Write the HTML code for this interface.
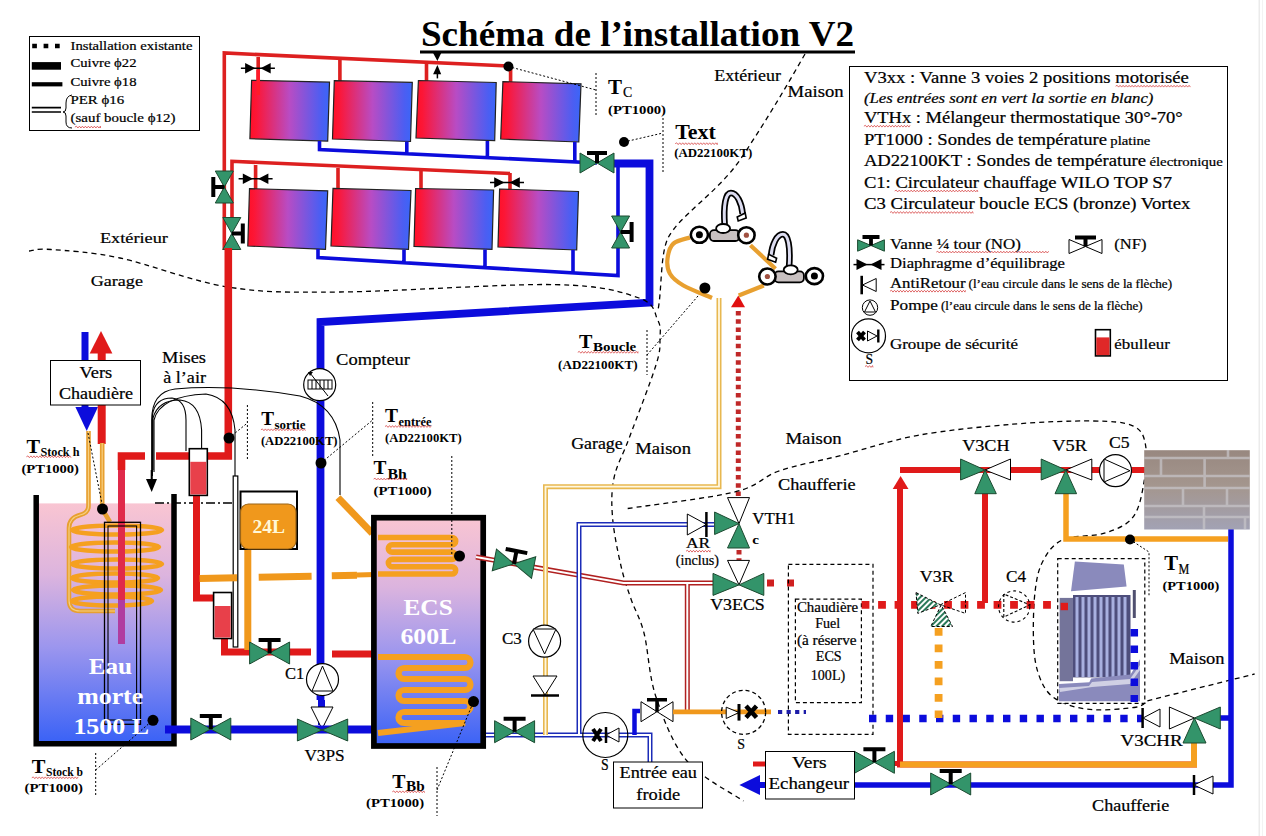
<!DOCTYPE html>
<html><head><meta charset="utf-8">
<style>
html,body{margin:0;padding:0;background:#fff;width:1266px;height:836px;overflow:hidden}
svg{display:block}
text{font-family:"Liberation Serif",serif;fill:#000}
.b{font-weight:bold}
</style></head><body>
<svg width="1266" height="836" viewBox="0 0 1266 836">
<defs>
<linearGradient id="pan" x1="0" x2="1" y1="0" y2="0">
<stop offset="0" stop-color="#ff1028"/><stop offset="0.08" stop-color="#fc1636"/><stop offset="0.5" stop-color="#b84cc4"/><stop offset="0.9" stop-color="#4c5ef2"/><stop offset="1" stop-color="#3a66f8"/>
</linearGradient>
<linearGradient id="tank" x1="0" x2="0" y1="0" y2="1">
<stop offset="0" stop-color="#f9c5d2"/><stop offset="0.3" stop-color="#dcb4de"/><stop offset="0.6" stop-color="#9c96ee"/><stop offset="1" stop-color="#3a62f6"/>
</linearGradient>
<linearGradient id="rodg" x1="0" x2="0" y1="0" y2="1">
<stop offset="0" stop-color="#e02050"/><stop offset="1" stop-color="#b03ca0"/>
</linearGradient>
<!-- 2-way valve green, centered, horizontal -->
<g id="vg">
<polygon points="-20,-11 0,0 -20,11" fill="#33946a" stroke="#1c4a30" stroke-width="1"/>
<polygon points="20,-11 0,0 20,11" fill="#33946a" stroke="#1c4a30" stroke-width="1"/>
<path fill="none" d="M0,0 V-13 M-11,-13 H11" stroke="#000" stroke-width="4"/>
</g>
<g id="vw">
<polygon points="-16,-10 0,0 -16,10" fill="#fff" stroke="#000" stroke-width="1"/>
<polygon points="16,-10 0,0 16,10" fill="#fff" stroke="#000" stroke-width="1"/>
<path fill="none" d="M0,0 V-12 M-10,-12 H10" stroke="#000" stroke-width="3.5"/>
</g>
<g id="dia">
<polygon points="-12.8,-5.2 -2.6,0 -12.8,5.2" fill="#000"/><polygon points="12.8,-5.2 2.6,0 12.8,5.2" fill="#000"/>
<path fill="none" d="M-17,0 H17" stroke="#000" stroke-width="1.5"/>
</g>
</defs>

<!-- right gray line -->
<rect x="1258.5" y="0" width="1.5" height="836" fill="#ebebeb"/><rect x="1262" y="0" width="1" height="836" fill="#f3f3f3"/>

<!-- TITLE -->
<rect x="420" y="50.5" width="435" height="3" fill="#000"/>

<!-- LEGEND top-left -->
<rect x="29.5" y="36.5" width="170" height="94" fill="none" stroke="#000" stroke-width="1"/>
<path fill="none" d="M32.2,46 H60" stroke="#000" stroke-width="4.7" stroke-dasharray="4.7,6.7"/>
<rect x="31.8" y="62.1" width="29.2" height="7.6" fill="#000"/>
<rect x="31.8" y="82.2" width="30.6" height="4.2" fill="#000"/>
<path fill="none" d="M31.8,107.6 H61 M31.8,112 H61" stroke="#000" stroke-width="1.6"/>
<path d="M72,95 Q66,96 66,103 V108 Q66,112 63,112 Q66,112 66,116 V122 Q66,128 72,128" fill="none" stroke="#000" stroke-width="1"/>

<!-- SOLAR PANELS upper -->
<g id="solar">
<!-- red collectors -->
<path d="M224.3,250 V53 L508.4,66" fill="none" stroke="#dd2020" stroke-width="3.6"/>
<path d="M258.2,57 V95 M339.9,60 V81 M426.5,63 V81 M510.6,66 V82" fill="none" stroke="#dd2020" stroke-width="3.6"/>
<polygon points="251.6,80.3 329.5,82.2 327.7,141.1 249.9,138.7" fill="url(#pan)" stroke="#222" stroke-width="1.2"/>
<polygon points="334.3,80.7 412.3,82.4 410.5,141.5 332.5,139" fill="url(#pan)" stroke="#222" stroke-width="1.2"/>
<polygon points="418.4,80.5 496.2,82.5 494.7,140.7 416,138" fill="url(#pan)" stroke="#222" stroke-width="1.2"/>
<polygon points="502.9,81.6 581,83.8 578.8,142 500.7,139" fill="url(#pan)" stroke="#222" stroke-width="1.2"/>
<path fill="none" d="M258.2,70 V95" stroke="#ff1a2a" stroke-width="3.6"/>
<circle cx="508.4" cy="66.5" r="5" fill="#000"/>
<!-- blue collectors -->
<path d="M319.5,141 V149.5 L597,163 M406.8,141.5 V154 M487.4,141 V158 M574.8,142 V162" fill="none" stroke="#0c0cdc" stroke-width="3.6"/>
<use href="#dia" x="257.9" y="68.2"/>
<polygon points="433.1,53.1 441.2,53.1 437.4,61.1" fill="#000"/><polygon points="433.1,74.3 441.2,74.3 437.4,64.9" fill="#000"/><path fill="none" d="M437.4,74 V78.4" stroke="#000" stroke-width="1.5"/>

<!-- lower group -->
<path d="M232,217 V161.3 L510,173.5" fill="none" stroke="#dd2020" stroke-width="3.6"/>
<path d="M255.6,165 V189 M338,168 V189 M421,170 V189 M510,173 V190" fill="none" stroke="#dd2020" stroke-width="3.6"/>
<polygon points="249.5,188.6 327.7,190.8 325.5,249.4 247.8,246" fill="url(#pan)" stroke="#222" stroke-width="1.2"/>
<polygon points="333,188.4 411,190.5 408.5,249.4 331,246" fill="url(#pan)" stroke="#222" stroke-width="1.2"/>
<polygon points="415.6,188.5 493.6,190 492,249.4 414,246.4" fill="url(#pan)" stroke="#222" stroke-width="1.2"/>
<polygon points="499.6,189 578.5,191.5 576.7,250 498,247" fill="url(#pan)" stroke="#222" stroke-width="1.2"/>
<path d="M318,249 V257.5 L618,275.6 V166 M404,249.5 V263 M485,249.5 V268 M573,250 V273" fill="none" stroke="#0c0cdc" stroke-width="3.6"/>
<use href="#dia" x="255.6" y="178.7"/>
<use href="#dia" x="507" y="182.5"/>
</g>

<!-- valves on left verticals -->
<g transform="translate(224.3,187) rotate(90)">
<polygon points="-16,-9 0,0 -16,9" fill="#33946a" stroke="#1c4a30" stroke-width="1"/>
<polygon points="16,-9 0,0 16,9" fill="#33946a" stroke="#1c4a30" stroke-width="1"/>
<path fill="none" d="M0,0 V11 M-10,11 H10" stroke="#000" stroke-width="4"/>
</g>
<g transform="translate(231.8,233.5) rotate(90)">
<polygon points="-16,-9 0,0 -16,9" fill="#33946a" stroke="#1c4a30" stroke-width="1"/>
<polygon points="16,-9 0,0 16,9" fill="#33946a" stroke="#1c4a30" stroke-width="1"/>
<path fill="none" d="M0,0 V-11 M-10,-11 H10" stroke="#000" stroke-width="4"/>
</g>
<g transform="translate(620.6,232) rotate(90)">
<polygon points="-16,-9 0,0 -16,9" fill="#33946a" stroke="#1c4a30" stroke-width="1"/>
<polygon points="16,-9 0,0 16,9" fill="#33946a" stroke="#1c4a30" stroke-width="1"/>
<path fill="none" d="M0,0 V-11 M-10,-11 H10" stroke="#000" stroke-width="4"/>
</g>
<!-- valve top right of panel, blue -->
<path d="M613,163.5 H649.5 V302.6 L320.5,322 V700" fill="none" stroke="#0c0cdc" stroke-width="7.8"/>
<g transform="translate(597,163)">
<polygon points="-17,-10 0,0 -17,10" fill="#33946a" stroke="#1c4a30" stroke-width="1"/>
<polygon points="17,-10 0,0 17,10" fill="#33946a" stroke="#1c4a30" stroke-width="1"/>
<path fill="none" d="M0,0 V-10 M-10,-10 H10" stroke="#000" stroke-width="4"/>
</g>


<!-- ===== LEFT SIDE ===== -->
<path d="M29,251 C32.7,250.8 35.8,248.3 51.0,249.5 C66.2,250.7 90.5,251.8 120.0,258.0 C149.5,264.2 191.3,281.3 228.0,287.0 C264.7,292.7 285.5,292.4 340.0,292.0 C394.5,291.6 505.2,283.6 555.0,284.6 C604.8,285.6 621.9,292.1 639.0,298.0 C656.1,303.9 654.2,313.3 657.7,320.0 C661.2,326.7 660.3,330.5 660.0,338.0 C659.7,345.5 661.2,348.2 656.0,365.0 C650.8,381.8 636.0,419.7 629.0,438.5 C622.0,457.3 616.7,464.8 614.0,478.0 C611.3,491.2 611.4,503.3 612.6,518.0 C613.8,532.7 617.9,552.5 621.0,566.0 C624.1,579.5 627.2,587.8 631.0,599.0 C634.8,610.2 639.8,616.7 644.0,633.0 C648.2,649.3 648.8,675.7 656.0,697.0 C663.2,718.3 672.4,743.7 687.0,761.0 C701.6,778.3 734.1,794.3 743.5,801.0" fill="none" stroke="#000" stroke-width="1.3" stroke-dasharray="5,4"/>

<!-- vers chaudiere pipes -->
<path fill="none" d="M85,332 V410" stroke="#0c0cdc" stroke-width="7"/>
<polygon points="75.4,407 98,407 86.7,431" fill="#0c0cdc"/>
<path fill="none" d="M101.7,352 V444" stroke="#e01a1a" stroke-width="8"/>
<polygon points="89.7,353.5 112.4,353.5 101,331" fill="#e01a1a"/>
<rect x="50.5" y="360.5" width="90" height="44.5" fill="#fff" stroke="#000" stroke-width="1"/>

<!-- Eau morte tank -->
<rect x="38" y="503.4" width="134" height="239" fill="url(#tank)"/>
<path d="M36.2,495 V743.8 H174 V494" fill="none" stroke="#000" stroke-width="5.5"/>
<path fill="none" d="M155,503 H237" stroke="#000" stroke-width="1.5" stroke-dasharray="9,3,2,3"/>
<!-- orange pipes into tank -->
<path d="M88.5,431 V506 Q88.5,513 80,515 Q69,518 69,528 V600 Q69,611 80,611 H115" fill="none" stroke="#e8a030" stroke-width="4.6"/><path d="M88.5,431 V506 Q88.5,513 80,515 Q69,518 69,528 V600 Q69,611 80,611 H115" fill="none" stroke="#f6cf80" stroke-width="1.2"/>
<path d="M102.2,443 V509 L110,522" fill="none" stroke="#e8a030" stroke-width="4.6"/><path d="M102.2,443 V509" fill="none" stroke="#f6cf80" stroke-width="1.2"/>
<g fill="none" stroke="#f5a020" stroke-width="4.6">
<ellipse cx="117" cy="530" rx="45" ry="4.5"/>
<ellipse cx="115" cy="547" rx="44" ry="4.5"/>
<ellipse cx="117" cy="564" rx="45" ry="4.5"/>
<ellipse cx="115" cy="578" rx="43" ry="4.5"/>
<ellipse cx="117" cy="590" rx="44" ry="4.5"/>
<ellipse cx="112" cy="601" rx="40" ry="4.5"/>
</g>
<path fill="none" d="M88,433 L103,509" stroke="#000" stroke-width="1" stroke-dasharray="2,2"/>
<circle cx="102.5" cy="509" r="5.5" fill="#000"/>
<path fill="none" d="M121.5,456 V600" stroke="#e02a4a" stroke-width="7"/>
<path fill="none" d="M121.5,600 V644" stroke="#b03ca0" stroke-width="7"/>
<rect x="104.5" y="522.3" width="36" height="202" fill="none" stroke="#000" stroke-width="1.3"/>
<rect x="108" y="526" width="28.6" height="194" fill="none" stroke="#000" stroke-width="1.1"/>
<circle cx="153" cy="720.3" r="5.5" fill="#000"/>
<path fill="none" d="M95.7,753 V797 M95.7,770 L153,720" stroke="#000" stroke-width="1" stroke-dasharray="2,2"/>

<!-- red main into tank -->
<path d="M228.3,248 V456 H156 M145,456 H121.5 V470" fill="none" stroke="#e01a1a" stroke-width="7.6"/>
<circle cx="229" cy="438" r="5.5" fill="#000"/>

<!-- air vent curves -->
<g fill="none" stroke="#000" stroke-width="1.1">
<path fill="none" d="M151.7,480 V420 Q151.7,392 175,389 Q230,384 300,396 Q335,405 340,440 V495"/>
<path fill="none" d="M152.4,476 V415 Q155,398 172,398 Q186,400 186,420 V451"/>
<path fill="none" d="M153,470 V418 Q158,400 180,400 Q200,402 201.6,430 V453"/>
<path fill="none" d="M154,472 V420 Q160,396 206,394 Q232,398 235,430 V476"/>
</g>
<polygon points="146,479 157,479 151.7,492" fill="#000"/>
<path fill="none" d="M151.7,470 V482" stroke="#000" stroke-width="2"/>

<!-- ebulleurs and red small pipes -->
<path d="M196.5,495 V598 H214 M224.5,638 V652 H311 M332,654 H372" fill="none" stroke="#e01a1a" stroke-width="7"/>
<rect x="189.3" y="448.7" width="18" height="46.7" fill="#fff" stroke="#000" stroke-width="1.6"/>
<rect x="190.3" y="461.8" width="16" height="32.6" fill="#e8404a"/>
<rect x="213.6" y="592.5" width="18" height="46" fill="#fff" stroke="#000" stroke-width="1.6"/>
<rect x="214.6" y="606" width="16" height="31.5" fill="#e8404a"/>
<rect x="233.2" y="476" width="4.6" height="171" fill="#fff" stroke="#000" stroke-width="1.2"/>
<!-- 24L -->
<path fill="none" d="M247.8,545 V650" stroke="#f0981c" stroke-width="7"/>
<rect x="240.5" y="491.5" width="56.5" height="57.5" fill="#fff" stroke="#000" stroke-width="2"/>
<rect x="240.5" y="504" width="55.5" height="45" rx="8" fill="#f0981c" stroke="#9a6418" stroke-width="1.2"/>
<!-- orange horizontal dashed -->
<path fill="none" d="M199.6,578.5 L237,577.7 M258.7,577.3 L311.6,576.3 M331.8,575.8 L357,575.2" stroke="#f0981c" stroke-width="7"/>
<path fill="none" d="M357,575 L375,574.4" stroke="#f0981c" stroke-width="5"/>
<use href="#vg" x="269.6" y="653"/>

<!-- blue vertical main w/ compteur, C1, V3PS -->
<circle cx="319.7" cy="384.7" r="16" fill="#fff" stroke="#000" stroke-width="1.2"/>
<rect x="308" y="380" width="24" height="9" fill="#fff" stroke="#000" stroke-width="1"/>
<path fill="none" d="M312,380 V389 M316,380 V389 M320,380 V389 M324,380 V389 M328,380 V389 M310,373 L328,396" stroke="#000" stroke-width="1"/>
<polygon points="308,372 313,372 310,376" fill="#000"/>
<circle cx="321" cy="463" r="5.5" fill="#000"/>
<path fill="none" d="M321.5,700 V725" stroke="#0c0cdc" stroke-width="7"/>
<circle cx="322.5" cy="679.6" r="16" fill="#fff" stroke="#000" stroke-width="1.2"/>
<polygon points="322.5,666 312,691 333,691" fill="#fff" stroke="#000" stroke-width="1"/>
<polygon points="311,707 333,707 322,729" fill="#fff" stroke="#000" stroke-width="1"/>
<path fill="none" d="M165,729.5 H372" stroke="#0c0cdc" stroke-width="8"/>
<use href="#vg" x="210.8" y="729"/>
<polygon points="297.4,719 322,730 297.4,741" fill="#33946a" stroke="#1c4a30" stroke-width="1"/>
<polygon points="347.7,719 322,730 347.7,741" fill="#33946a" stroke="#1c4a30" stroke-width="1"/>
<!-- orange diagonal -->
<path fill="none" d="M338,497.6 L372.3,533.4" stroke="#f0981c" stroke-width="7"/>
<!-- Tsortie / Tentree -->
<path fill="none" d="M247.4,405 V460 M229,438 L247.4,423" stroke="#000" stroke-width="1" stroke-dasharray="2,2"/>


<!-- ===== CENTER ===== -->
<!-- ECS tank -->
<rect x="373.9" y="517.7" width="109.3" height="228.3" fill="url(#tank)" stroke="#000" stroke-width="5.7"/>
<g fill="none" stroke="#f5a020" stroke-width="5.5">
<path d="M378,537.5 H452 A3.65,3.65 0 0 1 452,544.8 H392 A3.65,3.65 0 0 0 392,552.1 H452 A3.65,3.65 0 0 1 452,559.4 H392 A3.65,3.65 0 0 0 392,566.7 H452 A3.65,3.65 0 0 1 452,574 H378" stroke-width="5.6"/>
<path d="M378,657 H465 A5.50,5.50 0 0 1 465,668 H404 A5.50,5.50 0 0 0 404,679 H465 A5.50,5.50 0 0 1 465,690 H404 A5.50,5.50 0 0 0 404,701 H465 A5.50,5.50 0 0 1 465,712 H404 A5.50,5.50 0 0 0 404,723 H465 L378,733" stroke-width="6.2"/>
</g>
<circle cx="459.5" cy="556" r="5.5" fill="#000"/>
<circle cx="473.5" cy="701.6" r="5.5" fill="#000"/>
<path fill="none" d="M451.8,456 V556 M437,767 V816 M437,790 L473.5,701.6" stroke="#000" stroke-width="1" stroke-dasharray="2,2"/>
<path fill="none" d="M372.7,402 V456 M321,463 L372.7,420" stroke="#000" stroke-width="1" stroke-dasharray="2,2"/>

<!-- red double line from ECS top -->
<path d="M476,557 L623.5,583 H714 M687.3,583 V711" fill="none" stroke="#b02020" stroke-width="5"/>
<path d="M476,557 L623.5,583 H714 M687.3,583 V711" fill="none" stroke="#fff" stroke-width="2"/>
<g transform="translate(514,563.8) rotate(11)"><use href="#vg"/></g>
<!-- blue double line -->
<path d="M486,735 H650 V762 M579,735 V524.4 H714" fill="none" stroke="#1c2cb8" stroke-width="5"/>
<path d="M486,735 H650 V762 M579,735 V524.4 H714" fill="none" stroke="#fff" stroke-width="2"/>
<use href="#vg" x="514.6" y="731.7"/>
<!-- yellow double -->
<path d="M545.5,735 V486.7 H719 V298" fill="none" stroke="#e8b850" stroke-width="5"/>
<path d="M545.5,735 V486.7 H719 V298" fill="none" stroke="#fff8e0" stroke-width="1.8"/>
<circle cx="544.6" cy="641.2" r="16" fill="#fff" stroke="#000" stroke-width="1.2"/>
<polygon points="533,629 556,629 544.6,654" fill="#fff" stroke="#000" stroke-width="1"/>
<polygon points="533,676 557,676 545,695" fill="#fff" stroke="#000" stroke-width="1"/>
<path fill="none" d="M531,695.5 H559" stroke="#000" stroke-width="2.5"/>
<!-- security group S1 -->
<circle cx="605.3" cy="735" r="22.5" fill="none" stroke="#000" stroke-width="1.2"/>
<path fill="none" d="M593,729 L601,741 M601,729 L593,741" stroke="#000" stroke-width="4"/>
<path fill="none" d="M606,727 V743" stroke="#000" stroke-width="2.5"/>
<polygon points="606,735 619,728 619,742" fill="#fff" stroke="#000" stroke-width="1"/>
<path d="M634.5,735 V711 H640" fill="none" stroke="#0c0cdc" stroke-width="4.5"/>
<g transform="translate(657,711.7)"><use href="#vw"/></g>
<path fill="none" d="M673,711.8 H771" stroke="#f0981c" stroke-width="4.8"/>
<rect x="613.5" y="762" width="89" height="46" fill="#fff" stroke="#000" stroke-width="1"/>
<path fill="none" d="M647,330 V375 M647,355 L704.9,288" stroke="#000" stroke-width="1" stroke-dasharray="2,2"/>

<!-- Tc / Text labels -->
<path fill="none" d="M508.4,66.5 L596,90 M596,73 V116 M624,142 L663,133 M663,118 V172" stroke="#000" stroke-width="1" stroke-dasharray="2,2"/>
<circle cx="624" cy="142" r="5" fill="#000"/>
<path d="M805,54 C790,80 770,115 740,160 C715,195 680,215 668,238 C660,255 662,290 658,310" fill="none" stroke="#000" stroke-width="1.3" stroke-dasharray="5,4"/>

<!-- taps -->
<g fill="none" stroke="#e8a030" stroke-width="4.2">
<path d="M690,237.5 C687.2,238.5 677.1,240.1 673.4,243.6 C669.6,247.1 668.1,253.7 667.5,258.7 C666.9,263.7 667.4,269.3 670.0,273.8 C672.6,278.3 676.4,281.5 683.4,285.5 C690.4,289.5 707.2,295.9 712.0,298.0"/>
<path d="M750.4,245.3 L775.5,268.7"/>
<path d="M763.8,285.5 L738.7,295.5"/>
</g>
<circle cx="704.9" cy="288" r="5.5" fill="#000"/>
<g id="tap1" transform="translate(723.2,235)">
<path d="M1.5,-9.6 C0,-30 2.5,-42 7.7,-42 C13.7,-42 18.5,-32 19.5,-21" fill="none" stroke="#000" stroke-width="6.5"/>
<path d="M1.5,-9.6 C0,-30 2.5,-42 7.7,-42 C13.7,-42 18.5,-32 19.5,-21" fill="none" stroke="#dcdcf0" stroke-width="3"/>
<polygon points="14,-18 22,-22 23,-17 15,-14" fill="#fff" stroke="#000" stroke-width="1.6"/>
<rect x="-13.3" y="-4.9" width="29.5" height="10.9" rx="4" fill="#c8c0c0" stroke="#000" stroke-width="1.8"/>
<ellipse cx="-0.1" cy="-6.5" rx="7" ry="4.5" fill="#fff" stroke="#000" stroke-width="1.8"/>
<ellipse cx="-23.8" cy="-0.2" rx="8.6" ry="8" fill="#fff" stroke="#000" stroke-width="2.6"/>
<circle cx="-23.8" cy="-0.2" r="3.5" fill="#000"/>
<ellipse cx="23.2" cy="0.2" rx="8.2" ry="8" fill="#fff" stroke="#000" stroke-width="2.6"/>
<circle cx="23.2" cy="0.2" r="2.6" fill="#a05040"/>
</g>
<g transform="translate(790.6,276.3) scale(-1,1)">
<path d="M1.5,-9.6 C0,-30 2.5,-42 7.7,-42 C13.7,-42 18.5,-32 19.5,-21" fill="none" stroke="#000" stroke-width="6.5"/>
<path d="M1.5,-9.6 C0,-30 2.5,-42 7.7,-42 C13.7,-42 18.5,-32 19.5,-21" fill="none" stroke="#dcdcf0" stroke-width="3"/>
<polygon points="14,-18 22,-22 23,-17 15,-14" fill="#fff" stroke="#000" stroke-width="1.6"/>
<rect x="-13.3" y="-4.9" width="29.5" height="10.9" rx="4" fill="#c8c0c0" stroke="#000" stroke-width="1.8"/>
<ellipse cx="-0.1" cy="-6.5" rx="7" ry="4.5" fill="#fff" stroke="#000" stroke-width="1.8"/>
<ellipse cx="-23.8" cy="-0.2" rx="8.6" ry="8" fill="#fff" stroke="#000" stroke-width="2.6"/>
<circle cx="-23.8" cy="-0.2" r="3.5" fill="#000"/>
<ellipse cx="23.2" cy="0.2" rx="8.2" ry="8" fill="#fff" stroke="#000" stroke-width="2.6"/>
<circle cx="23.2" cy="0.2" r="2.6" fill="#a05040"/>
</g>
<polygon points="731,307.3 745,307.3 738.3,295.5" fill="#e01010"/>
<path fill="none" d="M738.3,311 V497" stroke="#c02828" stroke-width="5" stroke-dasharray="4.5,3.7"/>

<!-- ===== RIGHT ===== -->
<!-- legend box -->
<rect x="849.5" y="66.5" width="378" height="314" fill="#fff" stroke="#000" stroke-width="1"/>
<g transform="translate(871,245.5)">
<polygon points="-13.4,-5.7 0,0 -13.4,5.7" fill="#33946a" stroke="#1c4a30" stroke-width="1"/>
<polygon points="13.4,-5.7 0,0 13.4,5.7" fill="#33946a" stroke="#1c4a30" stroke-width="1"/>
<path fill="none" d="M0,0 V-9.5 M-8.5,-8.5 H8.5" stroke="#000" stroke-width="3.8"/>
</g>
<g transform="translate(1085.5,246.5)">
<polygon points="-16.5,-7 0,0 -16.5,7" fill="#fff" stroke="#000" stroke-width="1"/>
<polygon points="16.5,-7 0,0 16.5,7" fill="#fff" stroke="#000" stroke-width="1"/>
<path fill="none" d="M0,0 V-10.5 M-10.5,-9 H10.5" stroke="#000" stroke-width="4"/>
</g>
<g transform="translate(869,264.6)">
<polygon points="-12.5,-5.5 -1.5,0 -12.5,5.5" fill="#000"/><polygon points="12.5,-5.5 1.5,0 12.5,5.5" fill="#000"/>
<path fill="none" d="M-15.5,0 H15.5" stroke="#000" stroke-width="1.5"/>
</g>
<path fill="none" d="M861.7,275.8 V294.3" stroke="#000" stroke-width="2.6"/>
<polygon points="862.5,285 876.2,278.5 876.2,291.5" fill="#fff" stroke="#000" stroke-width="1"/>
<circle cx="870" cy="307.6" r="7.7" fill="#fff" stroke="#000" stroke-width="1"/>
<polygon points="870,301 864.5,312 875.5,312" fill="#fff" stroke="#000" stroke-width="1"/>
<circle cx="868.5" cy="335.9" r="17" fill="#fff" stroke="#000" stroke-width="1.2"/>
<path fill="none" d="M857.5,332 L864.5,340 M864.5,332 L857.5,340" stroke="#000" stroke-width="3.8"/>
<polygon points="867.5,331 877,336 867.5,341" fill="#fff" stroke="#000" stroke-width="1"/>
<path fill="none" d="M878.3,329.5 V342.5" stroke="#000" stroke-width="2.4"/>
<rect x="1095.5" y="329.7" width="14.8" height="26.2" fill="#fff" stroke="#000" stroke-width="1.6"/>
<rect x="1096.3" y="337.4" width="13.2" height="17.7" fill="#e02828"/>

<!-- VTH1 & V3ECS -->
<polygon points="727.5,497.6 749.5,497.6 739,523.6" fill="#fff" stroke="#000" stroke-width="1"/>
<polygon points="714.6,512 739,523.6 714.6,534.5" fill="#33946a" stroke="#1c4a30" stroke-width="1"/>
<polygon points="739,523.6 727.5,548 749.5,548" fill="#33946a" stroke="#1c4a30" stroke-width="1"/>
<polygon points="687.3,514 706.4,524.4 687.3,535" fill="#fff" stroke="#000" stroke-width="1"/>
<path fill="none" d="M706.4,512 V537" stroke="#000" stroke-width="2.5"/>
<path fill="none" d="M739,550 V560" stroke="#c02828" stroke-width="5" stroke-dasharray="4.5,3.7"/>
<polygon points="727.5,560.4 749.5,560.4 739,584.9" fill="#fff" stroke="#000" stroke-width="1"/>
<polygon points="713,573.4 739,584.9 713,595.4" fill="#33946a" stroke="#1c4a30" stroke-width="1"/>
<polygon points="763.8,573.4 739,584.9 763.8,595.4" fill="#33946a" stroke="#1c4a30" stroke-width="1"/>
<path fill="none" d="M767,583 H800" stroke="#d02020" stroke-width="7" stroke-dasharray="7,13"/>
<path d="M627.7,508.5 C645.6,505.7 709.7,498.2 735.0,491.9 C760.3,485.6 761.6,477.0 779.3,470.9 C797.0,464.8 818.1,461.3 841.2,455.4 C864.3,449.5 889.4,440.5 918.0,435.3 C946.6,430.1 983.8,426.6 1012.8,424.2 C1041.8,421.8 1071.8,420.7 1091.8,421.0 C1111.8,421.3 1123.8,421.8 1132.8,425.8 C1141.8,429.8 1143.7,435.3 1145.5,444.8 C1147.3,454.3 1146.0,470.6 1143.9,482.7 C1141.8,494.8 1139.4,509.0 1132.8,517.4 C1126.2,525.8 1116.0,529.5 1104.4,533.2 C1092.8,536.9 1073.5,535.0 1063.3,539.5 C1053.1,544.0 1048.2,551.5 1043.5,560.0 C1038.8,568.5 1036.9,576.9 1035.2,590.3 C1033.5,603.7 1033.0,626.5 1033.5,640.5 C1034.0,654.5 1035.2,664.5 1038.5,674.0 C1041.8,683.5 1045.5,691.6 1053.6,697.5 C1061.7,703.4 1073.7,707.5 1087.1,709.2 C1100.5,710.9 1124.0,708.9 1134.0,707.5 C1144.0,706.1 1145.2,701.9 1147.4,700.8" fill="none" stroke="#000" stroke-width="1.3" stroke-dasharray="5,4"/>
<path d="M1147.4,700.8 L1254.6,674" fill="none" stroke="#000" stroke-width="1.3" stroke-dasharray="5,4"/>

<!-- Chaudiere fuel -->
<rect x="788.4" y="564.4" width="84.6" height="170" fill="none" stroke="#000" stroke-width="1.2" stroke-dasharray="4,3"/>
<rect x="795.4" y="599.2" width="66" height="103.5" fill="none" stroke="#000" stroke-width="1.2" stroke-dasharray="4,3"/>
<!-- S2 group -->
<circle cx="743.6" cy="712.3" r="22" fill="none" stroke="#000" stroke-width="1.3" stroke-dasharray="4,3"/>
<polygon points="726.2,707.2 739,712.5 726.2,718.5" fill="#fff" stroke="#000" stroke-width="1"/>
<path fill="none" d="M739,704 V720.6" stroke="#000" stroke-width="3"/>
<path fill="none" d="M746,706 L756.5,717.5 M756.5,706 L746,717.5" stroke="#000" stroke-width="4.5"/>
<path fill="none" d="M778,712 H806" stroke="#1c1ca8" stroke-width="4.2" stroke-dasharray="4.2,4.36"/>

<!-- right red/orange/blue piping -->
<path fill="none" d="M861.6,604.8 H1068" stroke="#e01a1a" stroke-width="7.8" stroke-dasharray="7.8,8.7"/>
<path d="M900,489 V764.5 H1194 V743" fill="none" stroke="#e01a1a" stroke-width="6"/>
<path d="M900,764.5 H1194 V743" fill="none" stroke="#f5a020" stroke-width="6"/>
<polygon points="892.7,489 908.5,489 900.6,476" fill="#e01a1a"/>
<path d="M900,470 H1145 M985,493 V603" fill="none" stroke="#e01a1a" stroke-width="6"/>
<path d="M1066,493 V539 H1228" fill="none" stroke="#f5a020" stroke-width="5.5"/>
<circle cx="1130" cy="539.5" r="5" fill="#000"/>
<path d="M1231,529 V785 H855 M1220,718 H1231" fill="none" stroke="#0c0cdc" stroke-width="5.5"/>
<polygon points="739.4,785 760,775 760,795" fill="#0c0cdc"/>
<path fill="none" d="M758,785 H770" stroke="#0c0cdc" stroke-width="6"/>
<path fill="none" d="M753,764 H768" stroke="#e01a1a" stroke-width="5"/>
<path fill="none" d="M869,718.5 H1142" stroke="#0c0cdc" stroke-width="7.4" stroke-dasharray="7.4,9.35"/>
<path fill="none" d="M900,705 V735" stroke="#e01a1a" stroke-width="6"/>
<path fill="none" d="M894,763.5 H900" stroke="#e01a1a" stroke-width="5"/>

<path fill="none" d="M938.6,628 V718" stroke="#f5a020" stroke-width="7.8" stroke-dasharray="7.8,8.7"/>
<!-- V3CH, V5R -->
<polygon points="960.6,459 985,470 960.6,480" fill="#33946a" stroke="#1c4a30" stroke-width="1"/>
<polygon points="1010.5,459 985,470 1010.5,480" fill="#fff" stroke="#000" stroke-width="1"/>
<polygon points="985,470 974.8,493.7 996.3,493.7" fill="#33946a" stroke="#1c4a30" stroke-width="1"/>
<polygon points="1041.2,459 1065.8,470 1041.2,480" fill="#33946a" stroke="#1c4a30" stroke-width="1"/>
<polygon points="1091.8,459 1065.8,470 1091.8,480" fill="#fff" stroke="#000" stroke-width="1"/>
<polygon points="1065.8,470 1055,493.7 1076.6,493.7" fill="#33946a" stroke="#1c4a30" stroke-width="1"/>
<circle cx="1115.5" cy="470.7" r="16" fill="#fff" stroke="#000" stroke-width="1.2"/>
<polygon points="1104,459 1104,482 1130,470.7" fill="#fff" stroke="#000" stroke-width="1"/>
<!-- brick -->
<linearGradient id="brk" x1="0" x2="0" y1="0" y2="1"><stop offset="0" stop-color="#988880"/><stop offset="0.45" stop-color="#a4968e"/><stop offset="1" stop-color="#a2a2b4"/></linearGradient>
<rect x="1144.2" y="450.2" width="105.6" height="79.3" fill="url(#brk)"/>
<g stroke="#c8c6ca" stroke-width="2.6" fill="none" opacity="0.7">
<path d="M1144.2,458 H1249.8 M1144.2,476 H1249.8 M1144.2,488 H1249.8 M1144.2,506 H1249.8 M1144.2,517 H1249.8"/>
<path d="M1228,450 V458 M1161,458 V476 M1204.6,458 V476 M1204.6,476 V488 M1183,488 V506 M1227,488 V506 M1204,506 V517 M1204,517 V529 M1245,517 V529"/>
</g>
<!-- V3R, C4 -->
<pattern id="hatch" patternUnits="userSpaceOnUse" width="4" height="4" patternTransform="rotate(45)"><rect width="4" height="4" fill="#fff"/><rect width="2" height="4" fill="#2a7a5a"/></pattern>
<polygon points="916,592.6 940.4,604.8 917.8,613.4" fill="url(#hatch)" stroke="#000" stroke-width="1" stroke-dasharray="3,2"/>
<polygon points="940.4,604.8 965.5,592.6 965.5,613.4" fill="none" stroke="#000" stroke-width="1" stroke-dasharray="3,2"/>
<polygon points="941.2,604.8 930.8,626.5 952.5,626.5" fill="url(#hatch)" stroke="#000" stroke-width="1" stroke-dasharray="3,2"/>
<circle cx="1014.2" cy="606.5" r="15.6" fill="none" stroke="#000" stroke-width="1.1" stroke-dasharray="3,3"/>
<polygon points="1003.8,594 1003.8,617 1029.8,604.8" fill="none" stroke="#000" stroke-width="1.1" stroke-dasharray="3,2"/>
<!-- radiator -->
<rect x="1057.7" y="558.6" width="87.1" height="144.7" fill="#fff" stroke="#000" stroke-width="1.2" stroke-dasharray="4,3"/>
<polygon points="1074.9,561.5 1123.8,564.4 1126.6,586.4 1071,591.2" fill="#8a8abc"/>
<rect x="1059.6" y="597.9" width="13.4" height="83.3" fill="#74749a"/>
<rect x="1073" y="595" width="57.5" height="82.4" fill="#4e4e7c"/>
<g stroke="#a8b0e0" stroke-width="3" fill="none">
<path d="M1077,597 V677 M1083,597 V677 M1089,597 V677 M1095,597 V677 M1101,597 V677 M1107,597 V677 M1113,597 V677 M1119,597 V677 M1125,597 V677"/>
</g>
<path d="M1134.3,590 V618" stroke="#505070" stroke-width="3" fill="none"/>
<polygon points="1059,684 1089.3,682.2 1091.2,678.4 1130.5,674.5 1140,659.2 1140,701.3 1059,701.3" fill="#8a8abc"/>
<polygon points="1059,688 1089,686 1092,682 1130,679 1140,665 1140,670 1130,684 1092,687 1060,692" fill="#fff" opacity="0.6"/>
<rect x="1060.6" y="602.8" width="7.4" height="7.4" fill="#e01a1a"/>
<path fill="none" d="M1134.3,629 V702" stroke="#0c0cdc" stroke-width="7.5" stroke-dasharray="7.5,9"/>
<path fill="none" d="M1130,539.5 L1149,552 V596" stroke="#000" stroke-width="1" stroke-dasharray="2,2"/>
<!-- V3CHR -->
<path fill="none" d="M1142.6,708 V728" stroke="#000" stroke-width="2.5"/>
<polygon points="1143,718 1160,709 1160,727" fill="#fff" stroke="#000" stroke-width="1"/>
<polygon points="1169.4,707 1194.4,718 1169.4,729" fill="#fff" stroke="#000" stroke-width="1"/>
<polygon points="1220.3,707 1194.4,718 1220.3,729" fill="#33946a" stroke="#1c4a30" stroke-width="1"/>
<polygon points="1194.4,718 1183,743 1206,743" fill="#33946a" stroke="#1c4a30" stroke-width="1"/>
<use href="#vg" x="874.4" y="762.3"/>
<use href="#vg" x="950.7" y="784"/>
<path fill="none" d="M1194,775 V795" stroke="#000" stroke-width="2.5"/>
<polygon points="1194,785 1213,776 1213,794" fill="#fff" stroke="#000" stroke-width="1"/>
<rect x="765.5" y="751.5" width="89" height="47.5" fill="#fff" stroke="#000" stroke-width="1"/>

<text x="421" y="46.3" font-size="36" textLength="433" lengthAdjust="spacingAndGlyphs" font-weight="bold">Schéma de l’installation V2</text>
<text x="70.5" y="50.3" font-size="13.5" textLength="121.9" lengthAdjust="spacingAndGlyphs" stroke="#000" stroke-width="0.22">Installation existante</text>
<text x="70.5" y="67.4" font-size="13.5" textLength="66.0" lengthAdjust="spacingAndGlyphs" stroke="#000" stroke-width="0.22">Cuivre ϕ22</text>
<text x="70.5" y="86.4" font-size="13.5" textLength="66.0" lengthAdjust="spacingAndGlyphs" stroke="#000" stroke-width="0.22">Cuivre ϕ18</text>
<text x="70.5" y="104.4" font-size="13.5" textLength="53.7" lengthAdjust="spacingAndGlyphs" stroke="#000" stroke-width="0.22">PER ϕ16</text>
<text x="70.5" y="122.4" font-size="13.5" textLength="104.9" lengthAdjust="spacingAndGlyphs" stroke="#000" stroke-width="0.22">(sauf boucle ϕ12)</text>
<text x="99.9" y="242.8" font-size="15.5" textLength="68.0" lengthAdjust="spacingAndGlyphs" stroke="#000" stroke-width="0.22">Extérieur</text>
<text x="90.8" y="285.8" font-size="15.5" textLength="52.1" lengthAdjust="spacingAndGlyphs" stroke="#000" stroke-width="0.22">Garage</text>
<text x="79.5" y="377.7" font-size="16.5" textLength="32.7" lengthAdjust="spacingAndGlyphs" stroke="#000" stroke-width="0.22">Vers</text>
<text x="58.9" y="398.6" font-size="16.5" textLength="74.2" lengthAdjust="spacingAndGlyphs" stroke="#000" stroke-width="0.22">Chaudière</text>
<text x="162.1" y="362.6" font-size="16" textLength="43.9" lengthAdjust="spacingAndGlyphs" stroke="#000" stroke-width="0.22">Mises</text>
<text x="163.2" y="383.2" font-size="16" textLength="42.8" lengthAdjust="spacingAndGlyphs" stroke="#000" stroke-width="0.22">à l’air</text>
<text x="26.4" y="453" font-size="19" textLength="13.6" lengthAdjust="spacingAndGlyphs" font-weight="bold">T</text>
<text x="40.5" y="456.4" font-size="12.5" textLength="39.0" lengthAdjust="spacingAndGlyphs" font-weight="bold">Stock h</text>
<text x="21.4" y="473.2" font-size="13.5" textLength="57.6" lengthAdjust="spacingAndGlyphs" font-weight="bold">(PT1000)</text>
<text x="88.7" y="674.4" font-size="24" textLength="43.4" lengthAdjust="spacingAndGlyphs" font-weight="bold" style="fill:#fff">Eau</text>
<text x="77.2" y="704.1" font-size="24" textLength="66.0" lengthAdjust="spacingAndGlyphs" font-weight="bold" style="fill:#fff">morte</text>
<text x="73.4" y="733.8" font-size="24" textLength="75.6" lengthAdjust="spacingAndGlyphs" font-weight="bold" style="fill:#fff">1500 L</text>
<text x="31.8" y="773" font-size="19" textLength="13.7" lengthAdjust="spacingAndGlyphs" font-weight="bold">T</text>
<text x="46" y="776.3" font-size="12.5" textLength="37" lengthAdjust="spacingAndGlyphs" font-weight="bold">Stock b</text>
<text x="24.6" y="792.2" font-size="13.5" textLength="58.4" lengthAdjust="spacingAndGlyphs" font-weight="bold">(PT1000)</text>
<text x="252.5" y="533.4" font-size="18" textLength="32.6" lengthAdjust="spacingAndGlyphs" font-weight="bold" style="fill:#fff8d8">24L</text>
<text x="336.1" y="364.5" font-size="17" textLength="73.9" lengthAdjust="spacingAndGlyphs" stroke="#000" stroke-width="0.22">Compteur</text>
<text x="285.1" y="679.4" font-size="17" textLength="19.3" lengthAdjust="spacingAndGlyphs" stroke="#000" stroke-width="0.22">C1</text>
<text x="304.4" y="760.5" font-size="17" textLength="40.2" lengthAdjust="spacingAndGlyphs" stroke="#000" stroke-width="0.22">V3PS</text>
<text x="261.2" y="425.1" font-size="18" textLength="12.8" lengthAdjust="spacingAndGlyphs" font-weight="bold">T</text>
<text x="274.5" y="428.9" font-size="13" textLength="30.9" lengthAdjust="spacingAndGlyphs" font-weight="bold">sortie</text>
<text x="260.9" y="445" font-size="13.5" textLength="76.7" lengthAdjust="spacingAndGlyphs" font-weight="bold">(AD22100KT)</text>
<text x="385" y="422.2" font-size="18" textLength="13" lengthAdjust="spacingAndGlyphs" font-weight="bold">T</text>
<text x="398.5" y="426" font-size="13" textLength="33.0" lengthAdjust="spacingAndGlyphs" font-weight="bold">entrée</text>
<text x="385" y="442.1" font-size="13.5" textLength="76.8" lengthAdjust="spacingAndGlyphs" font-weight="bold">(AD22100KT)</text>
<text x="373.6" y="474.4" font-size="18" textLength="12.9" lengthAdjust="spacingAndGlyphs" font-weight="bold">T</text>
<text x="387.5" y="478.7" font-size="14" textLength="19.3" lengthAdjust="spacingAndGlyphs" font-weight="bold">Bh</text>
<text x="373.6" y="494.6" font-size="13.5" textLength="58.2" lengthAdjust="spacingAndGlyphs" font-weight="bold">(PT1000)</text>
<text x="403.5" y="614.5" font-size="24" textLength="49.2" lengthAdjust="spacingAndGlyphs" font-weight="bold" style="fill:#fff">ECS</text>
<text x="400.4" y="643.5" font-size="24" textLength="56.0" lengthAdjust="spacingAndGlyphs" font-weight="bold" style="fill:#fff">600L</text>
<text x="392.3" y="787.5" font-size="18" textLength="13.2" lengthAdjust="spacingAndGlyphs" font-weight="bold">T</text>
<text x="406" y="791" font-size="14" textLength="18.6" lengthAdjust="spacingAndGlyphs" font-weight="bold">Bb</text>
<text x="366" y="806.6" font-size="13.5" textLength="58.1" lengthAdjust="spacingAndGlyphs" font-weight="bold">(PT1000)</text>
<text x="502" y="643.8" font-size="17" textLength="19.8" lengthAdjust="spacingAndGlyphs" stroke="#000" stroke-width="0.22">C3</text>
<text x="600.9" y="769.8" font-size="16" textLength="7.7" lengthAdjust="spacingAndGlyphs" stroke="#000" stroke-width="0.22">S</text>
<text x="619.5" y="778.1" font-size="17" textLength="77.5" lengthAdjust="spacingAndGlyphs" stroke="#000" stroke-width="0.22">Entrée eau</text>
<text x="636.3" y="799.5" font-size="17" textLength="43.9" lengthAdjust="spacingAndGlyphs" stroke="#000" stroke-width="0.22">froide</text>
<text x="571.2" y="449.3" font-size="16" textLength="51.5" lengthAdjust="spacingAndGlyphs" stroke="#000" stroke-width="0.22">Garage</text>
<text x="635.3" y="453.8" font-size="16" textLength="55.6" lengthAdjust="spacingAndGlyphs" stroke="#000" stroke-width="0.22">Maison</text>
<text x="579.1" y="347.8" font-size="19" textLength="13.4" lengthAdjust="spacingAndGlyphs" font-weight="bold">T</text>
<text x="593" y="350.5" font-size="13.5" textLength="43.2" lengthAdjust="spacingAndGlyphs" font-weight="bold">Boucle</text>
<text x="558.1" y="368.8" font-size="13.5" textLength="79.5" lengthAdjust="spacingAndGlyphs" font-weight="bold">(AD22100KT)</text>
<text x="608" y="94.4" font-size="21" textLength="14" lengthAdjust="spacingAndGlyphs" font-weight="bold">T</text>
<text x="622.9" y="97.1" font-size="14" textLength="9.2" lengthAdjust="spacingAndGlyphs" stroke="#000" stroke-width="0.22">C</text>
<text x="608" y="113.5" font-size="13.5" textLength="58" lengthAdjust="spacingAndGlyphs" font-weight="bold">(PT1000)</text>
<text x="675.2" y="139.2" font-size="20" textLength="40.5" lengthAdjust="spacingAndGlyphs" font-weight="bold">Text</text>
<text x="674.2" y="156.7" font-size="13.5" textLength="78.1" lengthAdjust="spacingAndGlyphs" font-weight="bold">(AD22100KT)</text>
<text x="714.3" y="80.7" font-size="16" textLength="66.7" lengthAdjust="spacingAndGlyphs" stroke="#000" stroke-width="0.22">Extérieur</text>
<text x="787.6" y="97.1" font-size="16" textLength="56.0" lengthAdjust="spacingAndGlyphs" stroke="#000" stroke-width="0.22">Maison</text>
<text x="863.9" y="83.1" font-size="16.5" textLength="325.0" lengthAdjust="spacingAndGlyphs" stroke="#000" stroke-width="0.22">V3xx : Vanne 3 voies 2 positions motorisée</text>
<text x="863.9" y="103.1" font-size="14.5" textLength="289.5" lengthAdjust="spacingAndGlyphs" font-style="italic" stroke="#000" stroke-width="0.22">(Les entrées sont en vert la sortie en blanc)</text>
<text x="863.9" y="123.2" font-size="16.5" textLength="318.8" lengthAdjust="spacingAndGlyphs" stroke="#000" stroke-width="0.22">VTHx : Mélangeur thermostatique 30°-70°</text>
<text x="863.9" y="144.7" font-size="16.5" textLength="243.1" lengthAdjust="spacingAndGlyphs" stroke="#000" stroke-width="0.22">PT1000 : Sondes de température</text>
<text x="1110.3" y="144.7" font-size="13" textLength="40.1" lengthAdjust="spacingAndGlyphs" stroke="#000" stroke-width="0.22">platine</text>
<text x="863.9" y="166.3" font-size="16.5" textLength="282.1" lengthAdjust="spacingAndGlyphs" stroke="#000" stroke-width="0.22">AD22100KT : Sondes de température</text>
<text x="1149.4" y="166.3" font-size="13" textLength="73.4" lengthAdjust="spacingAndGlyphs" stroke="#000" stroke-width="0.22">électronique</text>
<text x="863.9" y="187.8" font-size="16.5" textLength="308.1" lengthAdjust="spacingAndGlyphs" stroke="#000" stroke-width="0.22">C1: Circulateur chauffage WILO TOP S7</text>
<text x="863.9" y="209.4" font-size="16.5" textLength="326.5" lengthAdjust="spacingAndGlyphs" stroke="#000" stroke-width="0.22">C3 Circulateur boucle ECS (bronze) Vortex</text>
<text x="890" y="249" font-size="15.5" textLength="131" lengthAdjust="spacingAndGlyphs" stroke="#000" stroke-width="0.22">Vanne ¼ tour (NO)</text>
<text x="1114.3" y="249" font-size="15.5" textLength="32.1" lengthAdjust="spacingAndGlyphs" stroke="#000" stroke-width="0.22">(NF)</text>
<text x="890" y="268.1" font-size="15.5" textLength="175" lengthAdjust="spacingAndGlyphs" stroke="#000" stroke-width="0.22">Diaphragme d’équilibrage</text>
<text x="890" y="288.2" font-size="15.5" textLength="75.5" lengthAdjust="spacingAndGlyphs" stroke="#000" stroke-width="0.22">AntiRetour</text>
<text x="968.6" y="288.2" font-size="12" textLength="203.4" lengthAdjust="spacingAndGlyphs" stroke="#000" stroke-width="0.22">(l’eau circule dans le sens de la flèche)</text>
<text x="890" y="309.7" font-size="15.5" textLength="47.8" lengthAdjust="spacingAndGlyphs" stroke="#000" stroke-width="0.22">Pompe</text>
<text x="940.9" y="309.7" font-size="12" textLength="201.8" lengthAdjust="spacingAndGlyphs" stroke="#000" stroke-width="0.22">(l’eau circule dans le sens de la flèche)</text>
<text x="890" y="348.8" font-size="15.5" textLength="127.9" lengthAdjust="spacingAndGlyphs" stroke="#000" stroke-width="0.22">Groupe de sécurité</text>
<text x="1114.3" y="348.8" font-size="15.5" textLength="55.5" lengthAdjust="spacingAndGlyphs" stroke="#000" stroke-width="0.22">ébulleur</text>
<text x="865.4" y="363.6" font-size="15" textLength="7.6" lengthAdjust="spacingAndGlyphs" stroke="#000" stroke-width="0.22">S</text>
<text x="752.3" y="524" font-size="16.5" textLength="43.1" lengthAdjust="spacingAndGlyphs" stroke="#000" stroke-width="0.22">VTH1</text>
<text x="752.3" y="544.1" font-size="13" textLength="6.7" lengthAdjust="spacingAndGlyphs" font-weight="bold">c</text>
<text x="686" y="548" font-size="15.5" textLength="24.2" lengthAdjust="spacingAndGlyphs" stroke="#000" stroke-width="0.22">AR</text>
<text x="675.8" y="565.2" font-size="14" textLength="43.1" lengthAdjust="spacingAndGlyphs" stroke="#000" stroke-width="0.22">(inclus)</text>
<text x="710.2" y="610.1" font-size="16.5" textLength="54.6" lengthAdjust="spacingAndGlyphs" stroke="#000" stroke-width="0.22">V3ECS</text>
<text x="785.4" y="443.9" font-size="16" textLength="56.3" lengthAdjust="spacingAndGlyphs" stroke="#000" stroke-width="0.22">Maison</text>
<text x="778" y="489.7" font-size="16" textLength="77.6" lengthAdjust="spacingAndGlyphs" stroke="#000" stroke-width="0.22">Chaufferie</text>
<text x="796.9" y="611.6" font-size="14" textLength="61.2" lengthAdjust="spacingAndGlyphs" stroke="#000" stroke-width="0.22">Chaudière</text>
<text x="815.3" y="628" font-size="14" textLength="24.9" lengthAdjust="spacingAndGlyphs" stroke="#000" stroke-width="0.22">Fuel</text>
<text x="796.9" y="645" font-size="14" textLength="59.7" lengthAdjust="spacingAndGlyphs" stroke="#000" stroke-width="0.22">(à réserve</text>
<text x="815.8" y="661.4" font-size="14" textLength="25.9" lengthAdjust="spacingAndGlyphs" stroke="#000" stroke-width="0.22">ECS</text>
<text x="810.8" y="679.8" font-size="14" textLength="34.4" lengthAdjust="spacingAndGlyphs" stroke="#000" stroke-width="0.22">100L)</text>
<text x="737.2" y="748.5" font-size="15" textLength="7.8" lengthAdjust="spacingAndGlyphs" stroke="#000" stroke-width="0.22">S</text>
<text x="791.9" y="768.4" font-size="17" textLength="34.8" lengthAdjust="spacingAndGlyphs" stroke="#000" stroke-width="0.22">Vers</text>
<text x="768.5" y="789.3" font-size="17" textLength="80.6" lengthAdjust="spacingAndGlyphs" stroke="#000" stroke-width="0.22">Echangeur</text>
<text x="962.2" y="451" font-size="17" textLength="47.4" lengthAdjust="spacingAndGlyphs" stroke="#000" stroke-width="0.22">V3CH</text>
<text x="1052.3" y="451" font-size="17" textLength="34.7" lengthAdjust="spacingAndGlyphs" stroke="#000" stroke-width="0.22">V5R</text>
<text x="1109.1" y="447.9" font-size="17" textLength="20.6" lengthAdjust="spacingAndGlyphs" stroke="#000" stroke-width="0.22">C5</text>
<text x="919.8" y="581.8" font-size="17" textLength="33.9" lengthAdjust="spacingAndGlyphs" stroke="#000" stroke-width="0.22">V3R</text>
<text x="1006" y="581.9" font-size="17" textLength="20.1" lengthAdjust="spacingAndGlyphs" stroke="#000" stroke-width="0.22">C4</text>
<text x="1164.2" y="570.2" font-size="21" textLength="13.8" lengthAdjust="spacingAndGlyphs" font-weight="bold">T</text>
<text x="1178.5" y="573.5" font-size="14" textLength="10.8" lengthAdjust="spacingAndGlyphs" stroke="#000" stroke-width="0.22">M</text>
<text x="1162.5" y="590.3" font-size="13.5" textLength="56.9" lengthAdjust="spacingAndGlyphs" font-weight="bold">(PT1000)</text>
<text x="1169.2" y="664" font-size="16" textLength="55.3" lengthAdjust="spacingAndGlyphs" stroke="#000" stroke-width="0.22">Maison</text>
<text x="1120.6" y="746" font-size="16" textLength="62.0" lengthAdjust="spacingAndGlyphs" stroke="#000" stroke-width="0.22">V3CHR</text>
<text x="1092.1" y="811.4" font-size="16" textLength="77.1" lengthAdjust="spacingAndGlyphs" stroke="#000" stroke-width="0.22">Chaufferie</text>
<path d="M1115.6,86.2 L1117.1,85.3 L1118.6,87.10000000000001 L1120.1,85.3 L1121.6,87.10000000000001 L1123.1,85.3 L1124.6,87.10000000000001 L1126.1,85.3 L1127.6,87.10000000000001 L1129.1,85.3 L1130.6,87.10000000000001 L1132.1,85.3 L1133.6,87.10000000000001 L1135.1,85.3 L1136.6,87.10000000000001 L1138.1,85.3 L1139.6,87.10000000000001 L1141.1,85.3 L1142.6,87.10000000000001 L1144.1,85.3 L1145.6,87.10000000000001 L1147.1,85.3 L1148.6,87.10000000000001 L1150.1,85.3 L1151.6,87.10000000000001 L1153.1,85.3 L1154.6,87.10000000000001 L1156.1,85.3 L1157.6,87.10000000000001 L1159.1,85.3 L1160.6,87.10000000000001 L1162.1,85.3 L1163.6,87.10000000000001 L1165.1,85.3 L1166.6,87.10000000000001 L1168.1,85.3 L1169.6,87.10000000000001 L1171.1,85.3 L1172.6,87.10000000000001 L1174.1,85.3 L1175.6,87.10000000000001 L1177.1,85.3 L1178.6,87.10000000000001 L1180.1,85.3 L1181.6,87.10000000000001 L1183.1,85.3 L1184.6,87.10000000000001 L1186.1,85.3 L1187.6,87.10000000000001 L1189.1,85.3 L1190.4,87.10000000000001" fill="none" stroke="#d84848" stroke-width="0.8"/>
<path d="M863.9,126.2 L865.4,125.3 L866.9,127.10000000000001 L868.4,125.3 L869.9,127.10000000000001 L871.4,125.3 L872.9,127.10000000000001 L874.4,125.3 L875.9,127.10000000000001 L877.4,125.3 L878.9,127.10000000000001 L880.4,125.3 L881.9,127.10000000000001 L883.4,125.3 L884.9,127.10000000000001 L886.4,125.3 L887.9,127.10000000000001 L889.4,125.3 L890.9,127.10000000000001 L892.4,125.3 L893.9,127.10000000000001 L895.4,125.3 L896.9,127.10000000000001 L898.4,125.3 L899.9,127.10000000000001 L901.4,125.3 L902.9,127.10000000000001 L904.4,125.3 L905.9,127.10000000000001 L907.4,125.3 L908.9,127.10000000000001 L910.0,125.3" fill="none" stroke="#d84848" stroke-width="0.8"/>
<path d="M894.7,191 L896.2,190.1 L897.7,191.9 L899.2,190.1 L900.7,191.9 L902.2,190.1 L903.7,191.9 L905.2,190.1 L906.7,191.9 L908.2,190.1 L909.7,191.9 L911.2,190.1 L912.7,191.9 L914.2,190.1 L915.7,191.9 L917.2,190.1 L918.7,191.9 L920.2,190.1 L921.7,191.9 L923.2,190.1 L924.7,191.9 L926.2,190.1 L927.7,191.9 L929.2,190.1 L930.7,191.9 L932.2,190.1 L933.7,191.9 L935.2,190.1 L936.7,191.9 L938.2,190.1 L939.7,191.9 L941.2,190.1 L942.7,191.9 L944.2,190.1 L945.7,191.9 L947.2,190.1 L948.7,191.9 L950.2,190.1 L951.7,191.9 L953.2,190.1 L954.7,191.9 L956.2,190.1 L957.7,191.9 L959.2,190.1 L960.7,191.9 L962.2,190.1 L963.7,191.9 L965.2,190.1 L966.7,191.9 L968.2,190.1 L969.7,191.9 L971.2,190.1 L972.7,191.9 L974.2,190.1 L975.7,191.9 L977.2,190.1 L977.8,191.9" fill="none" stroke="#d84848" stroke-width="0.8"/>
<path d="M890,212.5 L891.5,211.6 L893.0,213.4 L894.5,211.6 L896.0,213.4 L897.5,211.6 L899.0,213.4 L900.5,211.6 L902.0,213.4 L903.5,211.6 L905.0,213.4 L906.5,211.6 L908.0,213.4 L909.5,211.6 L911.0,213.4 L912.5,211.6 L914.0,213.4 L915.5,211.6 L917.0,213.4 L918.5,211.6 L920.0,213.4 L921.5,211.6 L923.0,213.4 L924.5,211.6 L926.0,213.4 L927.5,211.6 L929.0,213.4 L930.5,211.6 L932.0,213.4 L933.5,211.6 L935.0,213.4 L936.5,211.6 L938.0,213.4 L939.5,211.6 L941.0,213.4 L942.5,211.6 L944.0,213.4 L945.5,211.6 L947.0,213.4 L948.5,211.6 L950.0,213.4 L951.5,211.6 L953.0,213.4 L954.5,211.6 L956.0,213.4 L957.5,211.6 L959.0,213.4 L960.5,211.6 L962.0,213.4 L963.5,211.6 L965.0,213.4 L966.5,211.6 L968.0,213.4 L969.5,211.6 L971.0,213.4 L972.5,211.6 L973.2,213.4" fill="none" stroke="#d84848" stroke-width="0.8"/>
<path d="M936.3,252.1 L937.8,251.2 L939.3,253.0 L940.8,251.2 L942.3,253.0 L943.8,251.2 L945.3,253.0 L946.8,251.2 L948.3,253.0 L949.8,251.2 L951.3,253.0 L952.8,251.2 L954.3,253.0 L955.8,251.2 L957.3,253.0 L958.8,251.2 L960.3,253.0 L961.8,251.2 L963.3,253.0 L964.8,251.2 L966.3,253.0 L967.8,251.2 L969.3,253.0 L970.8,251.2 L972.3,253.0 L973.8,251.2 L975.3,253.0 L976.8,251.2 L978.3,253.0 L979.8,251.2 L981.3,253.0 L982.8,251.2 L984.3,253.0 L985.8,251.2 L987.3,253.0 L988.8,251.2 L990.3,253.0 L991.8,251.2 L993.3,253.0 L994.8,251.2 L996.3,253.0 L997.8,251.2 L999.3,253.0 L1000.8,251.2 L1002.3,253.0 L1003.8,251.2 L1005.3,253.0 L1006.8,251.2 L1008.3,253.0 L1009.8,251.2 L1011.3,253.0 L1012.8,251.2 L1014.3,253.0 L1015.8,251.2 L1017.3,253.0 L1018.8,251.2 L1020.3,253.0 L1021.8,251.2 L1023.3,253.0 L1024.8,251.2 L1026.3,253.0 L1027.8,251.2 L1029.3,253.0 L1030.8,251.2 L1032.3,253.0 L1033.8,251.2 L1035.3,253.0 L1036.8,251.2 L1038.3,253.0 L1039.8,251.2 L1041.3,253.0 L1042.8,251.2 L1044.3,253.0 L1045.8,251.2 L1047.3,253.0 L1048.7,251.2" fill="none" stroke="#d84848" stroke-width="0.8"/>
<path d="M890,291.2 L891.5,290.3 L893.0,292.09999999999997 L894.5,290.3 L896.0,292.09999999999997 L897.5,290.3 L899.0,292.09999999999997 L900.5,290.3 L902.0,292.09999999999997 L903.5,290.3 L905.0,292.09999999999997 L906.5,290.3 L908.0,292.09999999999997 L909.5,290.3 L911.0,292.09999999999997 L912.5,290.3 L914.0,292.09999999999997 L915.5,290.3 L917.0,292.09999999999997 L918.5,290.3 L920.0,292.09999999999997 L921.5,290.3 L923.0,292.09999999999997 L924.5,290.3 L926.0,292.09999999999997 L927.5,290.3 L929.0,292.09999999999997 L930.5,290.3 L932.0,292.09999999999997 L933.5,290.3 L935.0,292.09999999999997 L936.5,290.3 L938.0,292.09999999999997 L939.5,290.3 L941.0,292.09999999999997 L942.5,290.3 L944.0,292.09999999999997 L945.5,290.3 L947.0,292.09999999999997 L948.5,290.3 L950.0,292.09999999999997 L951.5,290.3 L953.0,292.09999999999997 L954.5,290.3 L956.0,292.09999999999997 L957.5,290.3 L959.0,292.09999999999997 L960.5,290.3 L962.0,292.09999999999997 L963.5,290.3 L965.0,292.09999999999997 L965.5,290.3" fill="none" stroke="#d84848" stroke-width="0.8"/>
<path d="M865,366.5 L866.5,365.6 L868.0,367.4 L869.5,365.6 L871.0,367.4 L872.5,365.6 L873.0,367.4" fill="none" stroke="#d84848" stroke-width="0.8"/>
<path d="M74.9,127.1 L76.4,126.19999999999999 L77.9,128.0 L79.4,126.19999999999999 L80.9,128.0 L82.4,126.19999999999999 L83.9,128.0 L85.4,126.19999999999999 L86.9,128.0 L88.4,126.19999999999999 L89.9,128.0 L91.4,126.19999999999999 L92.9,128.0 L94.4,126.19999999999999 L95.9,128.0 L97.4,126.19999999999999 L98.9,128.0 L100.4,126.19999999999999 L100.5,128.0" fill="none" stroke="#d84848" stroke-width="0.8"/>
<path d="M675.2,143.7 L676.7,142.79999999999998 L678.2,144.6 L679.7,142.79999999999998 L681.2,144.6 L682.7,142.79999999999998 L684.2,144.6 L685.7,142.79999999999998 L687.2,144.6 L688.7,142.79999999999998 L690.2,144.6 L691.7,142.79999999999998 L693.2,144.6 L694.7,142.79999999999998 L696.2,144.6 L697.7,142.79999999999998 L699.2,144.6 L700.7,142.79999999999998 L702.2,144.6 L703.7,142.79999999999998 L705.2,144.6 L706.7,142.79999999999998 L708.2,144.6 L709.7,142.79999999999998 L711.2,144.6 L712.7,142.79999999999998 L714.2,144.6 L715.7,142.79999999999998 L717.2,144.6 L717.3,142.79999999999998" fill="none" stroke="#d84848" stroke-width="0.8"/>
<path d="M260.9,429.8 L262.4,428.90000000000003 L263.9,430.7 L265.4,428.90000000000003 L266.9,430.7 L268.4,428.90000000000003 L269.9,430.7 L271.4,428.90000000000003 L272.9,430.7 L274.4,428.90000000000003 L275.9,430.7 L277.4,428.90000000000003 L278.9,430.7 L280.4,428.90000000000003 L281.9,430.7 L283.4,428.90000000000003 L284.9,430.7 L286.4,428.90000000000003 L287.9,430.7 L289.4,428.90000000000003 L290.9,430.7 L292.4,428.90000000000003 L293.9,430.7 L295.4,428.90000000000003 L296.9,430.7 L298.4,428.90000000000003 L299.9,430.7 L301.4,428.90000000000003 L302.9,430.7 L304.4,428.90000000000003 L305.4,430.7" fill="none" stroke="#d84848" stroke-width="0.8"/>
<path d="M385,426.5 L386.5,425.6 L388.0,427.4 L389.5,425.6 L391.0,427.4 L392.5,425.6 L394.0,427.4 L395.5,425.6 L397.0,427.4 L398.5,425.6 L400.0,427.4 L401.5,425.6 L403.0,427.4 L404.5,425.6 L406.0,427.4 L407.5,425.6 L409.0,427.4 L410.5,425.6 L412.0,427.4 L413.5,425.6 L415.0,427.4 L416.5,425.6 L418.0,427.4 L419.5,425.6 L421.0,427.4 L422.5,425.6 L424.0,427.4 L425.5,425.6 L427.0,427.4 L428.5,425.6 L430.0,427.4 L431.5,425.6" fill="none" stroke="#d84848" stroke-width="0.8"/>
<path d="M373.6,479.1 L375.1,478.20000000000005 L376.6,480.0 L378.1,478.20000000000005 L379.6,480.0 L381.1,478.20000000000005 L382.6,480.0 L384.1,478.20000000000005 L385.6,480.0 L387.1,478.20000000000005 L388.6,480.0 L390.1,478.20000000000005 L391.6,480.0 L393.1,478.20000000000005 L394.6,480.0 L396.1,478.20000000000005 L397.6,480.0 L399.1,478.20000000000005 L400.6,480.0 L402.1,478.20000000000005 L403.6,480.0 L405.1,478.20000000000005 L406.6,480.0 L406.8,478.20000000000005" fill="none" stroke="#d84848" stroke-width="0.8"/>
<path d="M26.4,456.8 L27.9,455.90000000000003 L29.4,457.7 L30.9,455.90000000000003 L32.4,457.7 L33.9,455.90000000000003 L35.4,457.7 L36.9,455.90000000000003 L38.4,457.7 L39.9,455.90000000000003 L41.4,457.7 L42.9,455.90000000000003 L44.4,457.7 L45.9,455.90000000000003 L47.4,457.7 L48.9,455.90000000000003 L50.4,457.7 L51.9,455.90000000000003 L53.4,457.7 L54.9,455.90000000000003 L56.4,457.7 L57.9,455.90000000000003 L59.4,457.7 L60.9,455.90000000000003 L62.4,457.7 L63.9,455.90000000000003 L65.4,457.7 L66.9,455.90000000000003 L68.4,457.7 L69.9,455.90000000000003 L71.0,457.7" fill="none" stroke="#d84848" stroke-width="0.8"/>
<path d="M31.8,777.8 L33.3,776.9 L34.8,778.6999999999999 L36.3,776.9 L37.8,778.6999999999999 L39.3,776.9 L40.8,778.6999999999999 L42.3,776.9 L43.8,778.6999999999999 L45.3,776.9 L46.8,778.6999999999999 L48.3,776.9 L49.8,778.6999999999999 L51.3,776.9 L52.8,778.6999999999999 L54.3,776.9 L55.8,778.6999999999999 L57.3,776.9 L58.8,778.6999999999999 L60.3,776.9 L61.8,778.6999999999999 L63.3,776.9 L64.8,778.6999999999999 L66.3,776.9 L67.8,778.6999999999999 L69.3,776.9 L70.8,778.6999999999999 L72.3,776.9 L73.8,778.6999999999999 L75.3,776.9 L76.8,778.6999999999999 L78.2,776.9" fill="none" stroke="#d84848" stroke-width="0.8"/>
<path d="M392.3,791.8 L393.8,790.9 L395.3,792.6999999999999 L396.8,790.9 L398.3,792.6999999999999 L399.8,790.9 L401.3,792.6999999999999 L402.8,790.9 L404.3,792.6999999999999 L405.8,790.9 L407.3,792.6999999999999 L408.8,790.9 L410.3,792.6999999999999 L411.8,790.9 L413.3,792.6999999999999 L414.8,790.9 L416.3,792.6999999999999 L417.8,790.9 L419.3,792.6999999999999 L420.8,790.9 L422.3,792.6999999999999 L423.8,790.9 L424.6,792.6999999999999" fill="none" stroke="#d84848" stroke-width="0.8"/>
<path d="M577.8,352.3 L579.3,351.40000000000003 L580.8,353.2 L582.3,351.40000000000003 L583.8,353.2 L585.3,351.40000000000003 L586.8,353.2 L588.3,351.40000000000003 L589.8,353.2 L591.3,351.40000000000003 L592.8,353.2 L594.3,351.40000000000003 L595.8,353.2 L597.3,351.40000000000003 L598.8,353.2 L600.3,351.40000000000003 L601.8,353.2 L603.3,351.40000000000003 L604.8,353.2 L606.3,351.40000000000003 L607.8,353.2 L609.3,351.40000000000003 L610.8,353.2 L612.3,351.40000000000003 L613.8,353.2 L615.3,351.40000000000003 L616.8,353.2 L618.3,351.40000000000003 L619.8,353.2 L621.3,351.40000000000003 L622.8,353.2 L624.3,351.40000000000003 L625.8,353.2 L627.3,351.40000000000003 L628.8,353.2 L630.3,351.40000000000003 L631.8,353.2 L633.3,351.40000000000003 L634.8,353.2 L636.3,351.40000000000003 L637.8,353.2 L638.0,351.40000000000003" fill="none" stroke="#d84848" stroke-width="0.8"/>
<path d="M686,551.2 L687.5,550.3000000000001 L689.0,552.1 L690.5,550.3000000000001 L692.0,552.1 L693.5,550.3000000000001 L695.0,552.1 L696.5,550.3000000000001 L698.0,552.1 L699.5,550.3000000000001 L701.0,552.1 L702.5,550.3000000000001 L704.0,552.1 L705.5,550.3000000000001 L707.0,552.1 L708.5,550.3000000000001 L710.0,552.1 L710.2,550.3000000000001" fill="none" stroke="#d84848" stroke-width="0.8"/>
</svg>
</body></html>
